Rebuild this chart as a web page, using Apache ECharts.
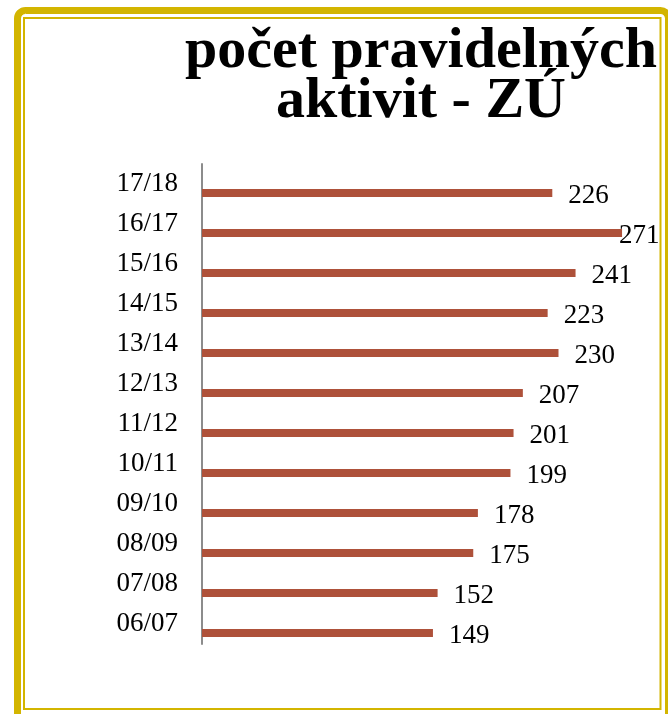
<!DOCTYPE html>
<html>
<head>
<meta charset="utf-8">
<script src="https://cdn.jsdelivr.net/npm/echarts@6/dist/echarts.min.js"></script>
<style>
  html, body { margin: 0; padding: 0; background: #fff; }
  #chart { width: 668px; height: 714px; }
</style>
</head>
<body>
<div id="chart"></div>
<script>
// data
const seasons = ['17/18', '16/17', '15/16', '14/15', '13/14', '12/13', '11/12', '10/11', '09/10', '08/09', '07/08', '06/07'];
const activities = [226, 271, 241, 223, 230, 207, 201, 199, 178, 175, 152, 149];

const chart = echarts.init(document.getElementById('chart'));
const serif = '"Liberation Serif", "DejaVu Serif", serif';
const gold = '#D3B500';
const maxVal = Math.max(...activities);

const option = {
  animation: false,
  title: {
    text: 'počet pravidelných\naktivit - ZÚ',
    left: 421,
    top: 27,
    padding: 0,
    textAlign: 'center',
    textStyle: {
      fontFamily: serif,
      fontWeight: 'bold',
      fontSize: 58,
      lineHeight: 50,
      color: '#000'
    }
  },
  // zlatý rámeček
  graphic: [
    {
      type: 'rect',
      shape: { x: 17.5, y: 10.5, width: 651, height: 712, r: 8 },
      style: { fill: 'none', stroke: gold, lineWidth: 7 }
    },
    {
      type: 'rect',
      shape: { x: 24, y: 18, width: 636.5, height: 691 },
      style: { fill: 'none', stroke: gold, lineWidth: 2 }
    }
  ],
  grid: { left: 202, top: 164, width: 465, height: 480, containLabel: false },
  xAxis: {
    type: 'value',
    min: 0,
    max: 300,
    show: false
  },
  yAxis: {
    type: 'category',
    data: seasons,
    inverse: true,
    axisLine: { lineStyle: { color: '#8C8C8C', width: 2 } },
    axisTick: { show: false },
    axisLabel: {
      margin: 24,
      fontFamily: serif,
      fontSize: 27,
      color: '#000'
    }
  },
  series: [
    {
      // prázdná řada – posune sloupce jako v Excelu
      type: 'bar',
      data: [],
      barWidth: 8,
      barGap: '125%'
    },
    {
      type: 'bar',
      barWidth: 8,
      barGap: '125%',
      itemStyle: { color: '#AE513A' },
      label: {
        show: true,
        position: 'right',
        distance: 16,
        offset: [0, 3],
        fontFamily: serif,
        fontSize: 27,
        color: '#000'
      },
      data: activities.map(v => v === maxVal ? { value: v, label: { distance: -3 } } : v)
    }
  ]
};

chart.setOption(option);
</script>
</body>
</html>
